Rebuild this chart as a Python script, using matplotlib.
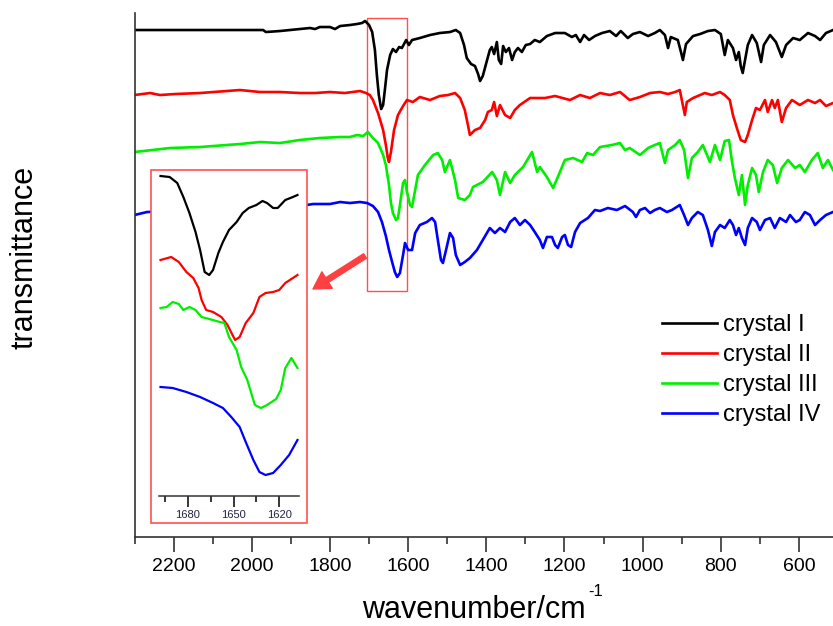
import numpy as np
import matplotlib.pyplot as plt
from matplotlib.patches import Rectangle, FancyArrowPatch
from matplotlib.ticker import MultipleLocator, FixedLocator

plt.rcParams['font.family'] = ['Liberation Sans', 'DejaVu Sans']

## spectra, (wavenumber, transmittance a.u.)

crystal_I = [
    (2300, 507), (2132, 507), (1971, 507), (1964, 505), (1928, 506), (1877, 508), (1851, 509),
    (1838, 508), (1826, 510), (1800, 510), (1787, 508), (1774, 511), (1749, 512), (1731, 513),
    (1718, 514), (1710, 516), (1700, 512), (1692, 505), (1685, 487), (1680, 462), (1675, 442),
    (1669, 428), (1664, 432), (1659, 449), (1654, 467), (1646, 482), (1639, 488), (1631, 485),
    (1623, 490), (1616, 489), (1605, 497), (1598, 492), (1590, 497), (1570, 499), (1544, 502),
    (1519, 504), (1493, 505), (1478, 507), (1467, 504), (1457, 492), (1450, 479), (1439, 473),
    (1429, 471), (1421, 463), (1416, 456), (1409, 461), (1398, 477), (1391, 487), (1386, 490),
    (1380, 483), (1373, 495), (1368, 477), (1362, 473), (1357, 491), (1350, 485), (1342, 489),
    (1334, 477), (1327, 485), (1319, 489), (1309, 485), (1299, 492), (1288, 493), (1276, 497),
    (1263, 495), (1245, 501), (1224, 504), (1199, 504), (1181, 500), (1171, 502), (1160, 495),
    (1150, 502), (1137, 497), (1122, 501), (1104, 504), (1084, 506), (1068, 501), (1056, 506),
    (1038, 499), (1025, 503), (1007, 505), (986, 501), (969, 504), (956, 507), (943, 502),
    (935, 489), (928, 500), (910, 497), (902, 485), (897, 477), (889, 493), (871, 501),
    (853, 503), (833, 506), (815, 507), (800, 503), (790, 482), (782, 497), (769, 489),
    (761, 477), (754, 485), (749, 471), (744, 464), (738, 477), (731, 492), (720, 502),
    (708, 494), (697, 475), (690, 492), (674, 502), (659, 495), (644, 480), (633, 492),
    (615, 499), (598, 497), (577, 504), (559, 501), (546, 497), (531, 504), (513, 507),
]

crystal_II = [
    (2300, 442), (2260, 444), (2235, 442), (2196, 443), (2132, 444), (2030, 447), (1979, 445),
    (1928, 445), (1877, 444), (1838, 444), (1800, 445), (1762, 444), (1723, 446), (1708, 444),
    (1698, 442), (1690, 437), (1677, 424), (1664, 407), (1657, 392), (1652, 379), (1649, 375),
    (1644, 385), (1636, 407), (1626, 422), (1613, 431), (1603, 437), (1588, 435), (1570, 440),
    (1544, 437), (1519, 441), (1498, 442), (1480, 444), (1467, 439), (1455, 427), (1447, 412),
    (1442, 402), (1429, 407), (1416, 409), (1403, 417), (1396, 425), (1386, 427), (1380, 435),
    (1373, 421), (1365, 432), (1352, 422), (1339, 419), (1327, 427), (1314, 432), (1288, 439),
    (1250, 439), (1224, 441), (1186, 437), (1160, 442), (1135, 439), (1109, 444), (1084, 442),
    (1058, 445), (1033, 437), (1007, 440), (981, 444), (956, 445), (935, 443), (917, 445),
    (905, 447), (892, 422), (887, 435), (871, 439), (853, 442), (841, 444), (823, 442),
    (802, 445), (790, 442), (777, 437), (769, 422), (759, 409), (749, 397), (738, 395),
    (731, 402), (720, 417), (710, 429), (700, 427), (687, 437), (680, 425), (669, 437),
    (662, 429), (654, 437), (644, 415), (633, 429), (618, 437), (598, 432), (577, 437),
    (559, 434), (546, 437), (531, 431), (513, 434),
]

crystal_III = [
    (2300, 385), (2209, 389), (2132, 390), (2030, 393), (1979, 395), (1928, 394), (1877, 397),
    (1826, 399), (1774, 400), (1749, 400), (1731, 402), (1715, 401), (1703, 405), (1690, 399),
    (1677, 394), (1664, 382), (1657, 372), (1649, 352), (1644, 334), (1639, 324), (1631, 317),
    (1626, 319), (1621, 332), (1613, 354), (1608, 357), (1603, 345), (1595, 332), (1590, 330),
    (1582, 347), (1575, 362), (1557, 372), (1536, 382), (1524, 384), (1513, 377), (1506, 365),
    (1493, 377), (1480, 357), (1472, 339), (1455, 337), (1442, 342), (1434, 350), (1409, 355),
    (1385, 365), (1373, 357), (1365, 342), (1352, 365), (1339, 354), (1327, 362), (1306, 370),
    (1283, 385), (1270, 365), (1263, 370), (1245, 360), (1229, 349), (1217, 360), (1199, 377),
    (1178, 379), (1155, 375), (1142, 384), (1127, 382), (1109, 390), (1079, 392), (1058, 394),
    (1045, 387), (1033, 389), (1007, 382), (986, 389), (969, 392), (956, 394), (943, 374),
    (935, 387), (917, 392), (905, 397), (894, 387), (884, 359), (874, 379), (859, 385),
    (846, 392), (828, 375), (815, 392), (802, 377), (790, 396), (779, 397), (772, 377),
    (764, 359), (754, 342), (746, 362), (738, 332), (731, 352), (720, 369), (710, 362),
    (703, 345), (692, 365), (680, 377), (667, 372), (656, 354), (644, 369), (628, 377),
    (610, 369), (598, 372), (585, 365), (567, 377), (552, 384), (539, 369), (526, 377),
    (513, 367),
]

crystal_IV = [
    (2300, 322), (2268, 325), (2132, 327), (2005, 329), (1877, 331), (1843, 333), (1800, 333),
    (1774, 335), (1749, 334), (1723, 335), (1705, 334), (1690, 331), (1677, 325), (1667, 315),
    (1657, 301), (1649, 287), (1641, 275), (1634, 265), (1628, 260), (1621, 264), (1613, 282),
    (1608, 294), (1600, 287), (1590, 287), (1582, 304), (1570, 312), (1552, 315), (1539, 319),
    (1531, 315), (1524, 297), (1516, 277), (1511, 274), (1503, 287), (1493, 304), (1485, 299),
    (1478, 282), (1467, 272), (1455, 275), (1442, 279), (1424, 287), (1409, 297), (1391, 309),
    (1378, 304), (1365, 309), (1352, 305), (1339, 315), (1327, 319), (1314, 312), (1301, 317),
    (1288, 312), (1276, 305), (1263, 297), (1255, 289), (1245, 300), (1232, 300), (1224, 292),
    (1217, 289), (1206, 300), (1199, 302), (1191, 292), (1183, 290), (1173, 305), (1160, 314),
    (1140, 319), (1122, 327), (1109, 326), (1089, 329), (1066, 327), (1045, 331), (1025, 325),
    (1017, 320), (1007, 327), (994, 329), (981, 324), (969, 327), (956, 329), (938, 325),
    (925, 327), (905, 332), (894, 322), (884, 312), (874, 319), (859, 325), (846, 322),
    (833, 307), (823, 291), (815, 305), (802, 312), (790, 309), (777, 317), (769, 312),
    (761, 302), (754, 309), (746, 299), (738, 292), (731, 309), (720, 319), (708, 315),
    (700, 307), (687, 317), (674, 319), (662, 309), (649, 319), (633, 315), (623, 322),
    (608, 315), (598, 317), (585, 325), (572, 322), (559, 312), (546, 317), (531, 322),
    (513, 325),
]

# zoomed view 1700-1607 cm-1 (inset)
zoom_I = [
    (1698, 320), (1692, 319), (1687, 313), (1683, 299), (1679, 283), (1675, 264), (1672, 246),
    (1669, 224), (1666, 221), (1663.5, 226), (1660, 243), (1657, 254), (1653, 266), (1648, 274),
    (1644, 283), (1640, 288), (1635, 291), (1631, 295), (1628, 293), (1624, 288), (1621, 288),
    (1616, 296), (1611, 299), (1608, 301),
]
zoom_II = [
    (1698, 236), (1691, 239), (1686, 234), (1681, 224), (1676.5, 218), (1673, 208), (1671, 196),
    (1668, 186), (1663.5, 184), (1658, 179), (1654, 171), (1649, 156), (1646, 159), (1642, 173),
    (1637, 183), (1633, 199), (1629, 203), (1624, 204), (1620, 206), (1616, 213), (1611, 218),
    (1608, 221),
]
zoom_III = [
    (1698, 188), (1694, 189), (1690, 194), (1686, 192), (1683, 186), (1679, 189), (1675, 186),
    (1671, 179), (1666, 177), (1659, 174), (1656, 173), (1653, 159), (1648, 146), (1645, 129),
    (1641, 116), (1636, 91), (1632, 88), (1628, 91), (1622, 97), (1619, 106), (1616, 128),
    (1612, 138), (1608, 128),
]
zoom_IV = [
    (1698, 109), (1690, 108), (1681, 104), (1672, 99), (1663.5, 93), (1657, 88), (1651.5, 79),
    (1646, 69), (1642, 54), (1637, 36), (1633, 24), (1629, 21), (1624, 23), (1619, 31),
    (1613.5, 41), (1608, 56),
]

labels = ['crystal I', 'crystal II', 'crystal III', 'crystal IV']
colors = ['#000000', '#ff0000', '#00ee00', '#0000ff']
main_sets = [crystal_I, crystal_II, crystal_III, crystal_IV]
zoom_sets = [zoom_I, zoom_II, zoom_III, zoom_IV]

fig = plt.figure(figsize=(8.33, 6.26), dpi=100)
ax = fig.add_axes([0.1615, 0.1422, 0.8385, 0.837])

for data, c, lab in zip(main_sets, colors, labels):
    x, y = zip(*data)
    ax.plot(x, y, color=c, lw=1.9, label=lab)

ax.set_xlim(2300, 513)
ax.set_ylim(0, 524)
for s in ['top', 'right']:
    ax.spines[s].set_visible(False)
for s in ['left', 'bottom']:
    ax.spines[s].set_color('#333333')
    ax.spines[s].set_linewidth(1.2)
ax.set_yticks([])
ax.xaxis.set_major_locator(MultipleLocator(200))
ax.xaxis.set_minor_locator(MultipleLocator(100))
ax.tick_params(axis='x', which='major', length=11, width=1.2, color='#333333',
               labelsize=14, pad=4)
ax.tick_params(axis='x', which='minor', length=5, width=1.2, color='#333333')

ax.set_xlabel('wavenumber/cm', fontsize=22)
ax.xaxis.set_label_coords(0.486, -0.110)
fig.text(588/833, 1 - 592/626, '-1', fontsize=12, ha='left', va='center')
ax.set_ylabel('transmittance', fontsize=22)
ax.yaxis.set_label_coords(-0.136, 0.534)

# box around the amide band
ax.add_patch(Rectangle((1604, 246), 100, 273, fill=False, ec='#ff5050', lw=1.0))

# inset frame
ax.add_patch(Rectangle((151/833, 103/626), 156/833, 353/626, transform=fig.transFigure,
                       fc='white', ec='#ff5050', lw=1.2, clip_on=False, zorder=5))

leg = ax.legend(loc='upper left', bbox_to_anchor=(0.755, 0.425), frameon=False, fontsize=17,
                handlelength=2.33, handletextpad=0.25, labelspacing=0.34,
                borderpad=0, borderaxespad=0)

# inset
ins = fig.add_axes([159/833, 130/626, 140/833, 324/626])
ins.patch.set_visible(False)
for data, c in zip(zoom_sets, colors):
    x, y = zip(*data)
    ins.plot(x, y, color=c, lw=1.6)
ins.set_xlim(1699, 1607)
ins.set_ylim(0, 324)
for s in ['top', 'right', 'left']:
    ins.spines[s].set_visible(False)
ins.spines['bottom'].set_color('#333333')
ins.spines['bottom'].set_linewidth(1.1)
ins.set_yticks([])
ins.xaxis.set_major_locator(FixedLocator([1680, 1650, 1620]))
ins.xaxis.set_minor_locator(FixedLocator([1695, 1665, 1635]))
ins.tick_params(axis='x', which='major', length=8, width=1.1, labelsize=8, pad=2,
                labelcolor='#222244')
ins.tick_params(axis='x', which='minor', length=4.5, width=1.1)

arrow = FancyArrowPatch((365/833, 370/626), (313/833, 337/626), transform=fig.transFigure,
                        arrowstyle='simple,head_width=1.4,head_length=1.2,tail_width=0.38',
                        mutation_scale=10, color='#ff4040', shrinkA=0, shrinkB=0)
fig.add_artist(arrow)

fig.savefig('out.png', dpi=100)
